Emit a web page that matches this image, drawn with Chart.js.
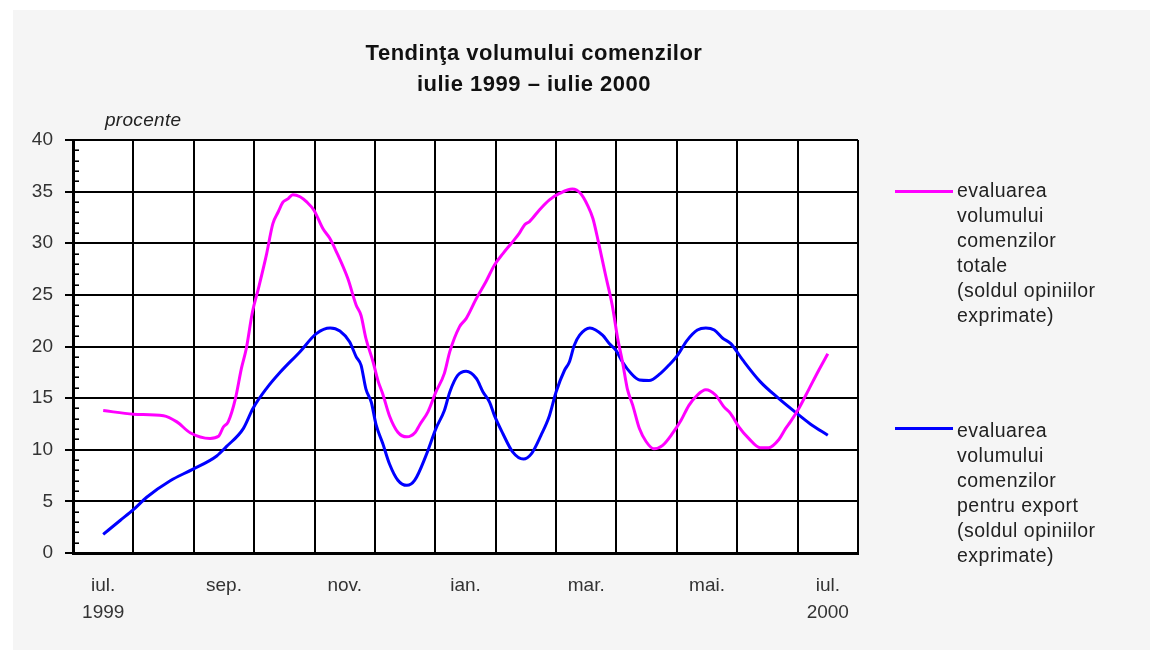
<!DOCTYPE html>
<html>
<head>
<meta charset="utf-8">
<script src="https://cdn.jsdelivr.net/npm/chart.js@4.4.0/dist/chart.umd.min.js"></script>
<style>
  html, body { margin: 0; padding: 0; background: #ffffff; }
  #wrap { position: relative; width: 1163px; height: 660px; overflow: hidden; font-family: "Liberation Sans", Arial, sans-serif; }
  #panel { position: absolute; left: 13px; top: 10px; width: 1137px; height: 640px; background: #f5f5f5; }
  #chart { position: absolute; left: 0; top: 0; }
  #title { position: absolute; left: 334px; width: 400px; top: 37px; text-align: center; font-weight: bold; font-size: 22px; line-height: 31px; color: #111; letter-spacing: 0.5px; }
  #unit { position: absolute; left: 105px; top: 107px; font-style: italic; font-size: 19px; line-height: 25px; color: #222; letter-spacing: 0.3px; }
  .leg { position: absolute; left: 957px; font-size: 19.5px; line-height: 25px; color: #222; letter-spacing: 0.5px; }
  .legline { position: absolute; left: 895px; width: 58px; height: 3px; }
</style>
</head>
<body>
<div id="wrap">
  <div id="panel"></div>
  <canvas id="chart" width="1163" height="660"></canvas>
  <div id="title">Tendinţa volumului comenzilor<br>iulie 1999 – iulie 2000</div>
  <div id="unit">procente</div>
  <div id="legend"></div>
</div>
<script>
// ---- data (x in months from iul. 1999 = 0) ----
const monthLabels = [["iul.", "1999"], "", "sep.", "", "nov.", "", "ian.", "", "mar.", "", "mai.", "", ["iul.", "2000"]];
const yTickStep = 5;

const seriesNames = [
  ["evaluarea", "volumului", "comenzilor", "totale", "(soldul opiniilor", "exprimate)"],
  ["evaluarea", "volumului", "comenzilor", "pentru export", "(soldul opiniilor", "exprimate)"]
];
const seriesColors = ["#ff00ff", "#0000ff"];

const totalX = [0, 0.5, 1.0, 1.22, 1.44, 1.77, 1.91, 1.99, 2.07, 2.19, 2.29, 2.37, 2.47, 2.57, 2.7, 2.81, 2.9, 2.98, 3.06, 3.14, 3.26, 3.37, 3.49, 3.64, 3.75, 3.86, 4.05, 4.19, 4.27, 4.35, 4.47, 4.55, 4.63, 4.74, 4.88, 5.03, 5.17, 5.24, 5.38, 5.51, 5.65, 5.74, 5.9, 6.01, 6.18, 6.34, 6.48, 6.62, 6.76, 6.89, 6.98, 7.06, 7.22, 7.39, 7.55, 7.77, 7.91, 8.02, 8.11, 8.2, 8.32, 8.43, 8.52, 8.6, 8.68, 8.77, 8.88, 8.99, 9.12, 9.26, 9.43, 9.57, 9.7, 9.84, 9.98, 10.14, 10.28, 10.39, 10.53, 10.69, 10.88, 11.02, 11.19, 11.3, 11.38, 11.52, 11.69, 11.85, 12];
const totalY = [13.8, 13.45, 13.3, 12.7, 11.65, 11.1, 11.3, 12.2, 12.7, 14.95, 17.9, 19.8, 23.3, 25.6, 28.8, 31.9, 33.05, 34.0, 34.3, 34.7, 34.5, 34.0, 33.2, 31.4, 30.5, 29.2, 26.6, 24.0, 23.0, 20.8, 18.5, 16.7, 15.4, 13.3, 11.7, 11.25, 11.7, 12.4, 13.7, 15.6, 17.4, 19.5, 21.9, 22.7, 24.65, 26.3, 27.9, 29.0, 30.0, 30.95, 31.8, 32.1, 33.2, 34.2, 34.8, 35.25, 34.8, 33.7, 32.4, 30.15, 26.9, 24.0, 20.8, 18.5, 15.9, 14.3, 12.05, 10.8, 10.1, 10.4, 11.6, 12.85, 14.3, 15.3, 15.8, 15.3, 14.15, 13.5, 12.2, 11.1, 10.2, 10.2, 11.0, 12.05, 12.7, 14.0, 15.9, 17.7, 19.3];

const exportX = [0, 0.28, 0.5, 0.72, 1.11, 1.48, 1.88, 2.04, 2.32, 2.48, 2.7, 2.93, 3.26, 3.53, 3.76, 3.92, 4.08, 4.19, 4.27, 4.35, 4.44, 4.52, 4.63, 4.74, 4.88, 5.03, 5.16, 5.35, 5.51, 5.65, 5.74, 5.87, 6.01, 6.18, 6.29, 6.4, 6.48, 6.62, 6.78, 6.96, 7.09, 7.25, 7.39, 7.5, 7.64, 7.72, 7.8, 7.89, 8.06, 8.27, 8.38, 8.49, 8.6, 8.74, 8.88, 9.04, 9.23, 9.37, 9.51, 9.67, 9.84, 9.98, 10.12, 10.26, 10.39, 10.59, 10.88, 11.19, 11.46, 11.71, 12];
const exportY = [1.8, 3.15, 4.2, 5.4, 7.0, 8.1, 9.4, 10.3, 12.05, 14.0, 15.9, 17.5, 19.5, 21.25, 21.8, 21.5, 20.45, 19.0, 18.2, 15.9, 14.6, 12.4, 10.6, 8.65, 7.05, 6.55, 7.05, 9.5, 12.05, 13.8, 15.6, 17.2, 17.6, 16.9, 15.6, 14.6, 13.3, 11.55, 9.8, 9.1, 9.6, 11.4, 13.3, 15.6, 17.7, 18.5, 20.1, 21.1, 21.8, 21.1, 20.3, 19.65, 18.5, 17.4, 16.75, 16.7, 17.4, 18.2, 19.15, 20.6, 21.6, 21.8, 21.6, 20.8, 20.3, 18.7, 16.6, 14.95, 13.65, 12.5, 11.4];

// ---- build ----
const toPts = (xs, ys) => xs.map((x, i) => ({ x: x, y: ys[i] }));
const nMonths = monthLabels.length;
const xTickVals = [];
for (let i = 0; i <= nMonths * 2; i++) xTickVals.push(-0.5 + i * 0.5);
const isBoundary = v => Math.abs(v - Math.round(v)) > 0.25;

const axisFont = { family: "'Liberation Sans', Arial, sans-serif", size: 19 };

const plotBg = {
  id: 'plotBg',
  beforeDraw(chart) {
    const { ctx, chartArea: a } = chart;
    ctx.save();
    ctx.fillStyle = '#ffffff';
    ctx.fillRect(a.left, a.top, a.right - a.left, a.bottom - a.top);
    ctx.restore();
  }
};
const minorTicks = {
  id: 'minorTicks',
  beforeDatasetsDraw(chart) {
    const { ctx, chartArea: a } = chart;
    const y = chart.scales.y;
    ctx.save();
    ctx.strokeStyle = '#000';
    ctx.lineWidth = 1.6;
    for (let v = y.min; v <= y.max; v++) {
      if (v % yTickStep === 0) continue;
      const p = Math.round(y.getPixelForValue(v)) + 0.2;
      ctx.beginPath();
      ctx.moveTo(a.left, p);
      ctx.lineTo(a.left + 6, p);
      ctx.stroke();
    }
    ctx.restore();
  }
};

new Chart(document.getElementById('chart'), {
  type: 'line',
  data: {
    datasets: [
      { label: seriesNames[0].join(' '), data: toPts(totalX, totalY), borderColor: seriesColors[0], backgroundColor: seriesColors[0], borderWidth: 3, pointRadius: 0, fill: false, cubicInterpolationMode: 'monotone' },
      { label: seriesNames[1].join(' '), data: toPts(exportX, exportY), borderColor: seriesColors[1], backgroundColor: seriesColors[1], borderWidth: 3, pointRadius: 0, fill: false, cubicInterpolationMode: 'monotone' }
    ]
  },
  options: {
    responsive: false,
    animation: false,
    devicePixelRatio: 1,
    layout: { padding: { left: 0, right: 305, top: 140, bottom: 0 } },
    plugins: { legend: { display: false }, title: { display: false }, tooltip: { enabled: false } },
    scales: {
      x: {
        type: 'linear',
        min: -0.5,
        max: nMonths - 0.5,
        afterBuildTicks: s => { s.ticks = xTickVals.map(v => ({ value: v })); },
        afterFit: s => { s.height = 107; },
        grid: {
          color: c => (c.tick && isBoundary(c.tick.value)) ? '#000' : 'rgba(0,0,0,0)',
          lineWidth: 2,
          drawTicks: false
        },
        border: { display: true, color: '#000', width: 3 },
        ticks: {
          autoSkip: false,
          maxRotation: 0,
          minRotation: 0,
          padding: 19,
          color: '#333',
          font: Object.assign({ lineHeight: 1.42 }, axisFont),
          callback: v => isBoundary(v) ? '' : (monthLabels[Math.round(v)] || '')
        }
      },
      y: {
        min: 0,
        max: 40,
        afterFit: s => { s.width = 73; },
        grid: { color: '#000', lineWidth: 2, drawTicks: true, tickLength: 8 },
        border: { display: true, color: '#000', width: 3 },
        ticks: { stepSize: yTickStep, padding: 12, color: '#333', font: axisFont }
      }
    }
  },
  plugins: [plotBg, minorTicks]
});

// ---- legend (HTML text) ----
const legendTops = [177.5, 417.5];
const legendLineY = [190, 427];
const legEl = document.getElementById('legend');
seriesNames.forEach((lines, i) => {
  const ln = document.createElement('div');
  ln.className = 'legline';
  ln.style.top = legendLineY[i] + 'px';
  ln.style.background = seriesColors[i];
  legEl.appendChild(ln);
  const t = document.createElement('div');
  t.className = 'leg';
  t.style.top = legendTops[i] + 'px';
  t.innerHTML = lines.join('<br>');
  legEl.appendChild(t);
});
</script>
</body>
</html>
